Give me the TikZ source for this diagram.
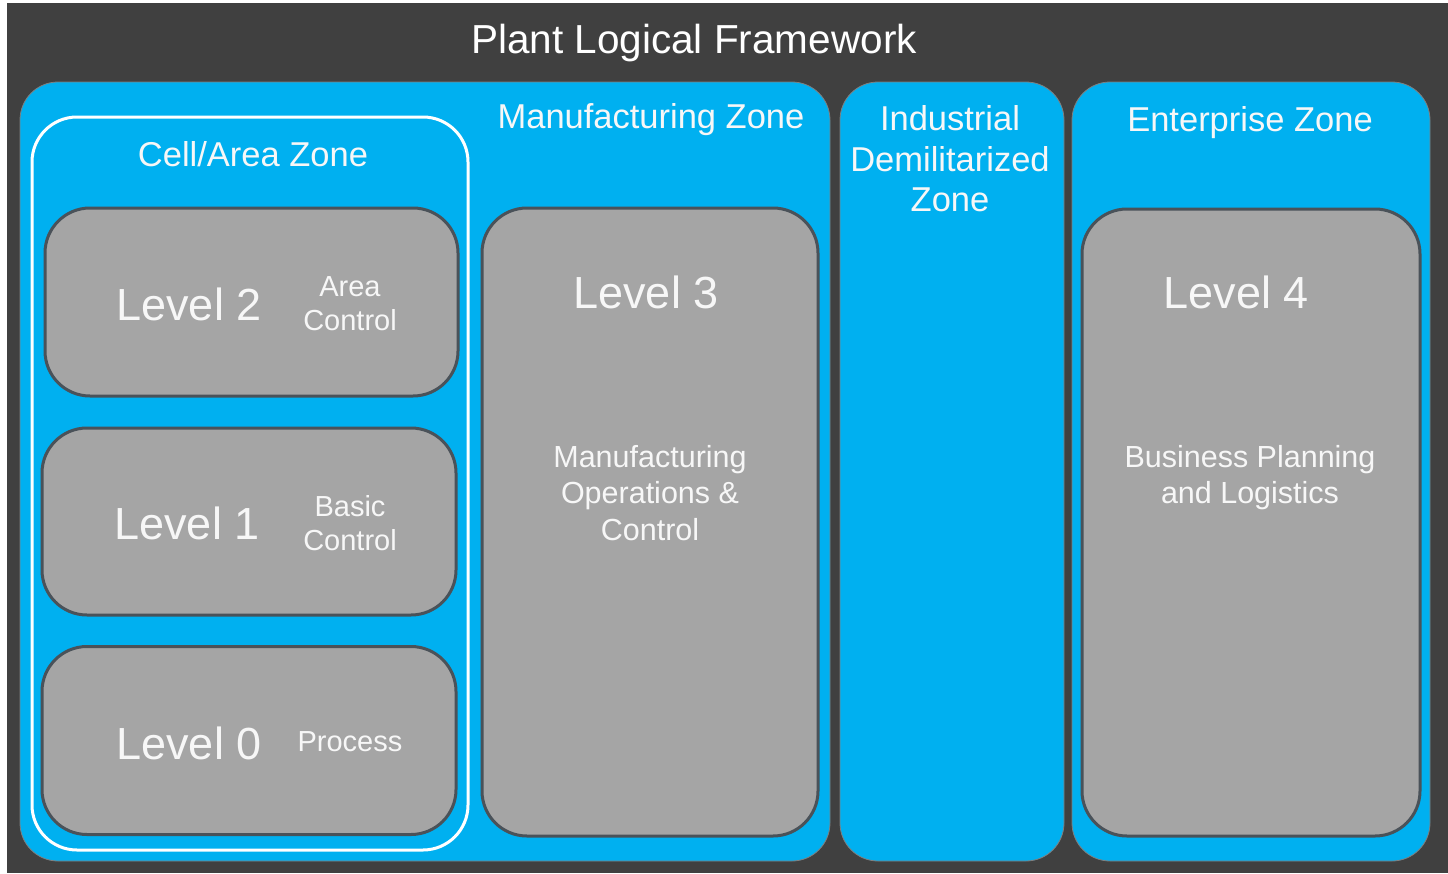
\documentclass[tikz,border=0pt]{standalone}
\usepackage{fontspec}
\setmainfont{Liberation Sans}
\definecolor{darkbg}{HTML}{404040}
\definecolor{zoneblue}{HTML}{00B0F0}
\definecolor{levelgrey}{HTML}{A5A5A5}
\definecolor{leveledge}{HTML}{4A5259}
\definecolor{zoneedge}{HTML}{7F7F7F}
\definecolor{txt}{HTML}{F7F7F7}
\begin{document}
\begin{tikzpicture}[x=1pt,y=-1pt,
  zonebox/.style={draw=zoneedge,line width=0.8pt,fill=zoneblue,rounded corners=38pt,inner sep=0pt},
  cellbox/.style={draw=white,line width=3pt,rounded corners=45pt,inner sep=0pt},
  levelbox/.style={draw=leveledge,line width=3pt,fill=levelgrey,rounded corners=45pt,inner sep=0pt},
  headtext/.style={text=txt,font=\fontsize{34.5}{40.5}\selectfont,align=center,inner sep=0pt},
  leveltext/.style={text=txt,font=\fontsize{45}{50}\selectfont,inner sep=0pt},
  subtext/.style={text=txt,font=\fontsize{29}{34}\selectfont,align=center,inner sep=0pt},
  desctext/.style={text=txt,font=\fontsize{30.5}{36.5}\selectfont,align=center,inner sep=0pt}]
\useasboundingbox (0,0) rectangle (1448,873);
\fill[white] (0,0) rectangle (1448,873);
\node[fill=darkbg,inner sep=0pt,minimum width=1441pt,minimum height=870pt] (bg) at (727.5,438) {};
\node[text=white,font=\fontsize{40.5}{46}\selectfont,inner sep=0pt] (title) at (694,43) {Plant Logical Framework};
% zones
\node[zonebox,minimum width=810pt,minimum height=779pt] (mz) at (425,471.5) {};
\node[zonebox,minimum width=224pt,minimum height=779pt] (idmz) at (952,471.5) {};
\node[zonebox,minimum width=358pt,minimum height=779pt] (ez) at (1251,471.5) {};
\node[cellbox,minimum width=436pt,minimum height=733pt] (cell) at (250,483.5) {};
% zone titles
\node[headtext] (cellt) at (253,154) {Cell/Area Zone};
\node[headtext] (mzt) at (651,119.5) {Manufacturing Zone};
\node[headtext] (idmzt) at (950,159) {Industrial\\Demilitarized\\Zone};
\node[headtext] (ezt) at (1250,122.5) {Enterprise Zone};
% level boxes
\node[levelbox,minimum width=413pt,minimum height=188pt] (l2) at (251.5,302) {};
\node[levelbox,minimum width=414pt,minimum height=187pt] (l1) at (249,521.5) {};
\node[levelbox,minimum width=414pt,minimum height=188pt] (l0) at (249,740.5) {};
\node[levelbox,minimum width=336pt,minimum height=628pt] (l3) at (650,522) {};
\node[levelbox,minimum width=338pt,minimum height=627pt] (l4) at (1251,522.5) {};
% level texts
\node[leveltext] (l2t) at (189,304) {Level 2};
\node[subtext] (l2s) at (350,304) {Area\\Control};
\node[leveltext] (l1t) at (187,523) {Level 1};
\node[subtext] (l1s) at (350,523) {Basic\\Control};
\node[leveltext] (l0t) at (189,743) {Level 0};
\node[subtext] (l0s) at (350,742) {Process};
\node[leveltext] (l3t) at (646,292) {Level 3};
\node[desctext] (l3s) at (650,493) {Manufacturing\\Operations \&\\Control};
\node[leveltext] (l4t) at (1236,292) {Level 4};
\node[desctext] (l4s) at (1250,477.5) {Business Planning\\and Logistics};
\end{tikzpicture}
\end{document}
